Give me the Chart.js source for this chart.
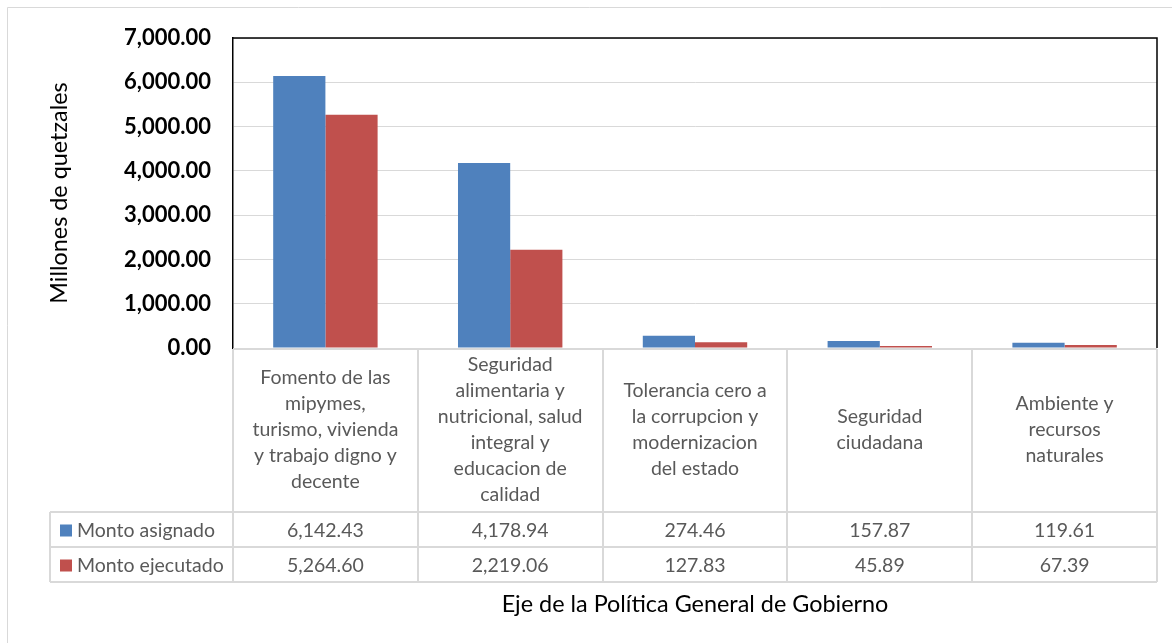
<!DOCTYPE html>
<html lang="es">
<head>
  <meta charset="UTF-8" />
  <title>Monto asignado y ejecutado por eje</title>
  <script src="https://cdn.jsdelivr.net/npm/chart.js"></script>
  <style>
    body { margin: 0; background: #ffffff; }
    #wrap { width: 1172px; height: 643px; position: relative; }
  </style>
</head>
<body>
  <div id="wrap"><canvas id="chart" width="1172" height="643"></canvas></div>

  <script>
    // datos
    const categories = [
      ['Fomento de las', 'mipymes,', 'turismo, vivienda', 'y trabajo digno y', 'decente'],
      ['Seguridad', 'alimentaria y', 'nutricional, salud', 'integral y', 'educacion de', 'calidad'],
      ['Tolerancia cero a', 'la corrupcion y', 'modernizacion', 'del estado'],
      ['Seguridad', 'ciudadana'],
      ['Ambiente y', 'recursos', 'naturales']
    ];
    const seriesNames = ['Monto asignado', 'Monto ejecutado'];
    const montoAsignado = [6142.43, 4178.94, 274.46, 157.87, 119.61];
    const montoEjecutado = [5264.60, 2219.06, 127.83, 45.89, 67.39];
    const seriesColors = ['#4F81BD', '#C0504D'];
    const yMax = 7000;
    const yStep = 1000;

    const fmt = v => v.toLocaleString('en-US', { minimumFractionDigits: 2, maximumFractionDigits: 2 });

    const tableFont = '19.5px Lato';
    const tableColor = '#595959';
    const lineColor = '#d9d9d9';

    const tablePlugin = {
      id: 'dataTable',
      beforeDraw(chart) {
        const ctx = chart.ctx;
        ctx.save();
        ctx.fillStyle = '#ffffff';
        ctx.fillRect(0, 0, chart.width, chart.height);
        // marco exterior
        ctx.strokeStyle = '#d9d9d9';
        ctx.lineWidth = 1;
        ctx.beginPath();
        ctx.moveTo(7.5, chart.height);
        ctx.lineTo(7.5, 7.5);
        ctx.lineTo(chart.width, 7.5);
        ctx.stroke();
        ctx.restore();
      },
      afterDraw(chart) {
        const ctx = chart.ctx;
        const area = chart.chartArea;
        const xs = chart.scales.x;
        const n = categories.length;
        const colW = (xs.right - xs.left) / n;
        const headTop = area.bottom;
        const headBottom = 512;
        const rowH = 35;
        const tableLeft = 50;
        const datasets = [montoAsignado, montoEjecutado];

        ctx.save();
        // marco del area de trazado
        ctx.strokeStyle = '#000000';
        ctx.lineWidth = 1.5;
        ctx.beginPath();
        ctx.moveTo(area.left, area.top);
        ctx.lineTo(area.right, area.top);
        ctx.lineTo(area.right, area.bottom);
        ctx.stroke();

        // lineas de la tabla
        ctx.strokeStyle = lineColor;
        ctx.lineWidth = 2;
        ctx.beginPath();
        ctx.moveTo(area.left, headTop + 1);
        ctx.lineTo(area.right, headTop + 1);
        for (let i = 0; i <= n; i++) {
          const x = Math.round(xs.left + i * colW);
          ctx.moveTo(x, headTop + 1);
          ctx.lineTo(x, headBottom + 2 * rowH);
        }
        for (let r = 0; r <= 2; r++) {
          const y = headBottom + r * rowH;
          ctx.moveTo(tableLeft, y);
          ctx.lineTo(area.right, y);
        }
        ctx.moveTo(tableLeft, headBottom);
        ctx.lineTo(tableLeft, headBottom + 2 * rowH);
        ctx.stroke();

        // etiquetas de categoria
        ctx.font = tableFont;
        ctx.fillStyle = tableColor;
        ctx.textAlign = 'center';
        ctx.textBaseline = 'middle';
        const lh = 26;
        categories.forEach((lines, i) => {
          const cx = xs.getPixelForValue(i);
          const cy = (headTop + headBottom) / 2;
          const y0 = cy - (lines.length - 1) * lh / 2;
          lines.forEach((t, k) => ctx.fillText(t, cx, y0 + k * lh));
        });

        // filas de valores
        datasets.forEach((vals, r) => {
          const cy = headBottom + r * rowH + rowH / 2 + 1;
          ctx.fillStyle = seriesColors[r];
          ctx.fillRect(60, cy - 6, 12, 12);
          ctx.fillStyle = tableColor;
          ctx.textAlign = 'left';
          ctx.fillText(seriesNames[r], 77, cy);
          ctx.textAlign = 'center';
          vals.forEach((v, i) => ctx.fillText(fmt(v), xs.getPixelForValue(i), cy));
        });
        ctx.restore();
      }
    };

    new Chart(document.getElementById('chart'), {
      type: 'bar',
      data: {
        labels: categories.map(c => c.join(' ')),
        datasets: [
          { label: seriesNames[0], data: montoAsignado, backgroundColor: seriesColors[0] },
          { label: seriesNames[1], data: montoEjecutado, backgroundColor: seriesColors[1] }
        ]
      },
      options: {
        responsive: false,
        animation: false,
        layout: { padding: { left: 8, top: 38, right: 15, bottom: 0 } },
        datasets: { bar: { categoryPercentage: 0.565, barPercentage: 1.0 } },
        plugins: { legend: { display: false }, tooltip: { enabled: false } },
        scales: {
          x: {
            grid: { display: false },
            border: { display: false },
            ticks: { display: false },
            title: {
              display: true,
              text: 'Eje de la Política General de Gobierno',
              color: '#000000',
              font: { family: 'Lato', size: 23.4 },
              padding: { top: 0, bottom: 25 }
            },
            afterFit(scale) { scale.height = 643 - 348; }
          },
          y: {
            min: 0,
            max: yMax,
            ticks: {
              stepSize: yStep,
              color: '#000000',
              padding: 22,
              font: { family: 'Lato', size: 22, weight: 'bold' },
              callback: v => fmt(v)
            },
            grid: { color: lineColor, drawTicks: false },
            border: { color: '#000000', width: 1.5 },
            title: {
              display: true,
              text: 'Millones de quetzales',
              color: '#000000',
              font: { family: 'Lato', size: 23.4 },
              padding: { top: 37, bottom: 0 }
            },
            afterFit(scale) { scale.width = 233 - 8; }
          }
        }
      },
      plugins: [tablePlugin]
    });
  </script>
</body>
</html>
